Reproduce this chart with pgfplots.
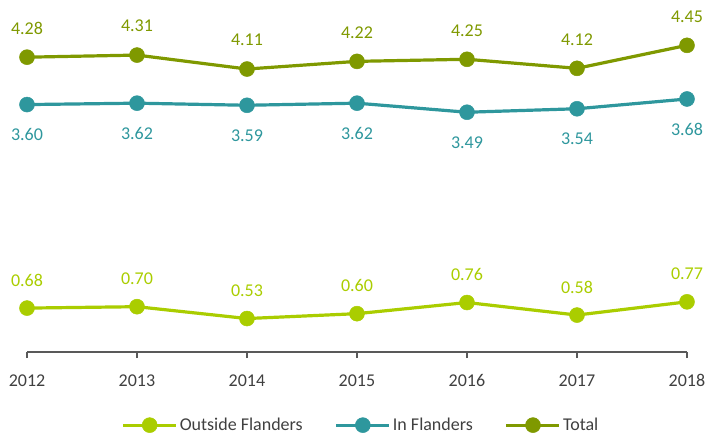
\documentclass[border=0pt]{standalone}
\usepackage{fontspec}
\setmainfont{Carlito}
\usepackage{pgfplots}
\pgfplotsset{compat=1.18}
\definecolor{cTotal}{RGB}{127,153,0}
\definecolor{cIn}{RGB}{46,151,157}
\definecolor{cOut}{RGB}{170,205,0}
\definecolor{cAxis}{RGB}{89,89,89}
\definecolor{cTick}{RGB}{64,64,64}
\newcommand{\chartfont}{\fontsize{18bp}{21.6bp}\selectfont}
\begin{document}
\begin{tikzpicture}
\useasboundingbox (-27bp,-84bp) rectangle (681bp,352bp);
\begin{axis}[
  scale only axis,
  width=660bp, height=345bp,
  xmin=2012, xmax=2018,
  ymin=0.05, ymax=5,
  axis x line*=bottom,
  axis y line=none,
  x axis line style={draw=cAxis, line width=1.5bp},
  xtick={2012,...,2018},
  xtick pos=bottom,
  tick align=outside,
  major tick length=6bp,
  xtick style={draw=cAxis, line width=1.5bp},
  xticklabel style={font=\chartfont, text=cTick, yshift=-13bp},
  /pgf/number format/1000 sep={},
  /pgf/number format/assume math mode=true,
  clip=false,
  point meta=y,
  nodes near coords={\pgfmathprintnumber[fixed,fixed zerofill,precision=2,assume math mode=true]{\pgfplotspointmeta}},
  legend columns=3,
  legend style={draw=none, fill=none, at={(0.506,-0.212)}, anchor=center,
    font=\chartfont, text=cTick,
    /tikz/every even column/.append style={column sep=30bp}},
  legend image code/.code={%
    \draw[#1, mark repeat=2, mark phase=2] plot coordinates {(0bp,0bp) (26.5bp,0bp) (53bp,0bp)};},
]
\addplot[color=cOut, line width=3.2bp, mark=*, mark size=7.5bp, mark options={solid, line width=0.5bp},
  every node near coord/.append style={anchor=center, yshift=28bp, font=\chartfont, text=cOut}]
  coordinates {(2012,0.68) (2013,0.70) (2014,0.53) (2015,0.60) (2016,0.76) (2017,0.58) (2018,0.77)};
\addlegendentry{Outside Flanders}
\addplot[color=cIn, line width=3.2bp, mark=*, mark size=7.5bp, mark options={solid, line width=0.5bp},
  every node near coord/.append style={anchor=center, yshift=-30bp, font=\chartfont, text=cIn}]
  coordinates {(2012,3.60) (2013,3.62) (2014,3.59) (2015,3.62) (2016,3.49) (2017,3.54) (2018,3.68)};
\addlegendentry{In Flanders}
\addplot[color=cTotal, line width=3.2bp, mark=*, mark size=7.5bp, mark options={solid, line width=0.5bp},
  every node near coord/.append style={anchor=center, yshift=29bp, font=\chartfont, text=cTotal}]
  coordinates {(2012,4.28) (2013,4.31) (2014,4.11) (2015,4.22) (2016,4.25) (2017,4.12) (2018,4.45)};
\addlegendentry{Total}
\end{axis}
\end{tikzpicture}
\end{document}
